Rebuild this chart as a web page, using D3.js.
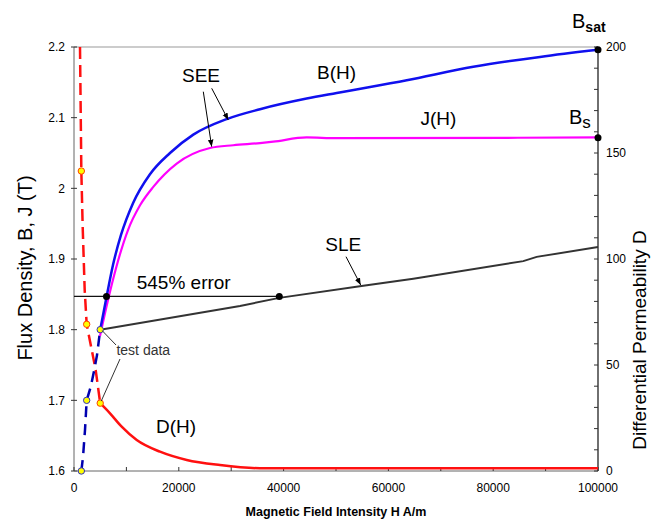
<!DOCTYPE html>
<html>
<head>
<meta charset="utf-8">
<script src="https://cdn.jsdelivr.net/npm/d3@7"></script>
<style>
  body { margin: 0; background: #fff; }
  svg { display: block; font-family: "Liberation Sans", Arial, sans-serif; }
</style>
</head>
<body>
<svg id="chart"></svg>
<script>
const width = 652, height = 521;
const marginLeft = 74, marginRight = 54, marginTop = 47, marginBottom = 50;

// B(H) measured curve (solid blue)
const hB = [5000, 6200, 7440, 8970, 11260, 14500, 18320, 22770, 29140, 35500, 44400, 50130, 63500, 76200, 88930, 100000];
const bB = [1.80, 1.846, 1.8915, 1.934, 1.979, 2.020, 2.050, 2.076, 2.098, 2.112, 2.127, 2.135, 2.153, 2.172, 2.186, 2.196];
// B(H) low field part (dashed)
const hBd = [1400, 1720, 2100, 2420, 3190, 3820, 4390, 5000];
const bBd = [1.60, 1.62, 1.658, 1.70, 1.719, 1.7415, 1.764, 1.80];
// J(H)
const hJ = [4960, 6490, 8015, 10305, 12600, 15130, 19600, 25950, 30400, 35500, 38030, 44400, 50130, 100000];
const bJ = [1.791, 1.842, 1.887, 1.941, 1.976, 2.002, 2.035, 2.057, 2.061, 2.064, 2.066, 2.072, 2.071, 2.072];
// SLE straight line extrapolation
const hS = [5000, 31680, 39180, 55210, 64750, 85740, 88300, 100000];
const bS = [1.80, 1.8335, 1.845, 1.862, 1.872, 1.897, 1.903, 1.917];
// D(H) differential permeability (right axis)
const hD = [5000, 6870, 9100, 11970, 16410, 21510, 27860, 35500, 100000];
const dD = [32, 27.2, 20.9, 14.6, 9.1, 5.2, 2.8, 1.3, 1.3];
const hDd = [1145, 1400, 1660, 2040, 2420, 4140, 5000];
const dDd = [200, 141.5, 115, 85.4, 69.2, 47.6, 32];
// test data points
const testH = [1400, 2420, 5000];
const testB = [1.6, 1.7, 1.8];
const testD = [141.5, 69.2, 32];
// 545% error line + saturation values
const errB = 1.847;
const errH = [6200, 39180];
const bSat = 2.196, bS_ = 2.0716;

const xTicks = d3.range(0, 100001, 10000);
const xLabels = [0, 20000, 40000, 60000, 80000, 100000];
const yTicks = [1.6, 1.7, 1.8, 1.9, 2.0, 2.1, 2.2];
const dTicks = d3.range(0, 201, 10);
const dLabels = [0, 50, 100, 150, 200];

const x = d3.scaleLinear().domain([0, 100000]).range([marginLeft, width - marginRight]);
const y = d3.scaleLinear().domain([1.6, 2.2]).range([height - marginBottom, marginTop]);
const yD = d3.scaleLinear().domain([0, 200]).range([height - marginBottom, marginTop]);

const svg = d3.select('#chart').attr('width', width).attr('height', height);

const defs = svg.append('defs');
defs.append('marker').attr('id', 'arr').attr('viewBox', '0 0 10 10')
  .attr('refX', 10).attr('refY', 5).attr('markerWidth', 7).attr('markerHeight', 7)
  .attr('orient', 'auto-start-reverse').attr('markerUnits', 'userSpaceOnUse')
  .append('path').attr('d', 'M0,1L10,5L0,9z').attr('fill', '#000');

const X0 = x(0), X1 = x(100000), Y0 = y(1.6), Y1 = y(2.2);

// top border line
svg.append('line').attr('x1', X0).attr('x2', X1).attr('y1', Y1).attr('y2', Y1)
  .attr('stroke', '#999').attr('stroke-width', 1);

/** AXES **/
// left
svg.append('line').attr('x1', X0).attr('x2', X0).attr('y1', Y0).attr('y2', Y1).attr('stroke', '#666');
svg.append('g').selectAll('line').data(yTicks).join('line')
  .attr('x1', X0 - 3).attr('x2', X0 + 3).attr('y1', d => y(d)).attr('y2', d => y(d)).attr('stroke', '#333');
svg.append('g').selectAll('text').data(yTicks).join('text')
  .attr('x', 65).attr('y', d => y(d)).attr('dy', '0.35em').attr('text-anchor', 'end')
  .style('font-size', '12px').text(d => d3.format('')(+d.toFixed(1)));

// bottom
svg.append('line').attr('x1', X0).attr('x2', X1).attr('y1', Y0).attr('y2', Y0).attr('stroke', '#666');
svg.append('g').selectAll('line').data(xTicks).join('line')
  .attr('x1', d => x(d)).attr('x2', d => x(d)).attr('y1', Y0).attr('y2', Y0 - 4).attr('stroke', '#333');
svg.append('g').selectAll('text').data(xLabels).join('text')
  .attr('x', d => x(d)).attr('y', 492).attr('text-anchor', 'middle')
  .style('font-size', '12px').text(d => d);

// right
svg.append('line').attr('x1', X1).attr('x2', X1).attr('y1', Y0).attr('y2', Y1).attr('stroke', '#222').attr('stroke-width', 1.3);
svg.append('g').selectAll('line').data(dTicks).join('line')
  .attr('x1', X1 - 4).attr('x2', X1).attr('y1', d => yD(d)).attr('y2', d => yD(d)).attr('stroke', '#333');
svg.append('g').selectAll('text').data(dLabels).join('text')
  .attr('x', X1 + 8).attr('y', d => yD(d)).attr('dy', '0.35em')
  .style('font-size', '12px').text(d => d);

// axis titles
svg.append('text').attr('transform', 'translate(32,268) rotate(-90)').attr('text-anchor', 'middle')
  .style('font-size', '20px').text('Flux Density, B, J (T)');
svg.append('text').attr('transform', 'translate(646,340) rotate(-90)').attr('text-anchor', 'middle')
  .style('font-size', '19px').text('Differential Permeability D');
svg.append('text').attr('x', 336).attr('y', 516).attr('text-anchor', 'middle')
  .style('font-size', '12.5px').style('font-weight', 'bold').text('Magnetic Field Intensity H A/m');

/** CURVES **/
const lineB = d3.line().x(d => x(d[0])).y(d => y(d[1])).curve(d3.curveMonotoneX);
const lineD = d3.line().x(d => x(d[0])).y(d => yD(d[1])).curve(d3.curveMonotoneX);
const lineP = d3.line().x(d => x(d[0])).y(d => y(d[1]));

// error line
svg.append('line').attr('x1', X0).attr('x2', x(errH[1])).attr('y1', y(errB)).attr('y2', y(errB))
  .attr('stroke', '#111').attr('stroke-width', 1.3);

svg.append('path').datum(d3.zip(hDd, dDd)).attr('d', d3.line().x(d => x(d[0])).y(d => yD(d[1])))
  .attr('fill', 'none').attr('stroke', '#ff1010').attr('stroke-width', 2.5).attr('stroke-dasharray', '12,6');
svg.append('path').datum(d3.zip(hD, dD)).attr('d', lineD)
  .attr('fill', 'none').attr('stroke', '#ff1010').attr('stroke-width', 2.5);

svg.append('path').datum(d3.zip(hBd, bBd)).attr('d', lineP)
  .attr('fill', 'none').attr('stroke', '#0000b0').attr('stroke-width', 2.5).attr('stroke-dasharray', '11,7');

svg.append('path').datum(d3.zip(hS, bS)).attr('d', lineP)
  .attr('fill', 'none').attr('stroke', '#333').attr('stroke-width', 2);
svg.append('path').datum(d3.zip(hJ, bJ)).attr('d', lineB)
  .attr('fill', 'none').attr('stroke', '#ff00ff').attr('stroke-width', 2.2);
svg.append('path').datum(d3.zip(hB, bB)).attr('d', lineB)
  .attr('fill', 'none').attr('stroke', '#1010ee').attr('stroke-width', 2.5);

// black dots
svg.append('g').selectAll('circle').data([[errH[0], errB], [errH[1], errB], [100000, bSat], [100000, bS_]]).join('circle')
  .attr('cx', d => x(d[0])).attr('cy', d => y(d[1])).attr('r', 3.5).attr('fill', '#000');

// test data markers
svg.append('g').selectAll('circle').data(d3.zip(testH, testB)).join('circle')
  .attr('cx', d => x(d[0])).attr('cy', d => y(d[1])).attr('r', 3.2)
  .attr('fill', '#ffff00').attr('stroke', '#3030c0').attr('stroke-width', 1);
svg.append('g').selectAll('circle').data(d3.zip(testH, testD)).join('circle')
  .attr('cx', d => x(d[0])).attr('cy', d => yD(d[1])).attr('r', 3.2)
  .attr('fill', '#ffff00').attr('stroke', '#ff4000').attr('stroke-width', 1);

/** ANNOTATIONS **/
function label(txt, h, b, size) {
  return svg.append('text').attr('x', x(h)).attr('y', y(b)).attr('dy', '0.35em')
    .attr('text-anchor', 'middle').style('font-size', size + 'px').text(txt);
}
label('SEE', 24240, 2.1597, 19);
label('B(H)', 50095, 2.1646, 19);
label('J(H)', 69561, 2.0988, 19);
label('SLE', 51393, 1.9212, 19);
label('545% error', 20935, 1.8675, 19);
label('D(H)', 19466, 1.6637, 19);
label('test data', 13225, 1.7712, 14).attr('fill', '#333');

// B_sat and B_s
let t1 = svg.append('text').attr('x', 572).attr('y', 28).style('font-size', '20px');
t1.append('tspan').text('B');
t1.append('tspan').attr('dy', 4).style('font-size', '14px').style('font-weight', 'bold').text('sat');
let t2 = svg.append('text').attr('x', 569).attr('y', 124).style('font-size', '20px');
t2.append('tspan').text('B');
t2.append('tspan').attr('dy', 4).style('font-size', '17px').text('s');

// arrows (SEE, SLE)
const arrows = [[203.3, 91.7, 211.7, 146.7], [211.7, 88.3, 228.3, 120], [346, 256.7, 360.7, 285]];
svg.append('g').selectAll('line').data(arrows).join('line')
  .attr('x1', d => d[0]).attr('y1', d => d[1]).attr('x2', d => d[2]).attr('y2', d => d[3])
  .attr('stroke', '#000').attr('stroke-width', 1).attr('marker-end', 'url(#arr)');

// test data leaders
svg.append('line').attr('x1', x(testH[2]) + 2).attr('y1', y(testB[2]) + 1).attr('x2', 116).attr('y2', 345)
  .attr('stroke', '#333').attr('stroke-width', 1);
svg.append('line').attr('x1', 120).attr('y1', 359).attr('x2', x(testH[2]) + 1).attr('y2', yD(testD[2]) - 2)
  .attr('stroke', '#333').attr('stroke-width', 1);
</script>
</body>
</html>
